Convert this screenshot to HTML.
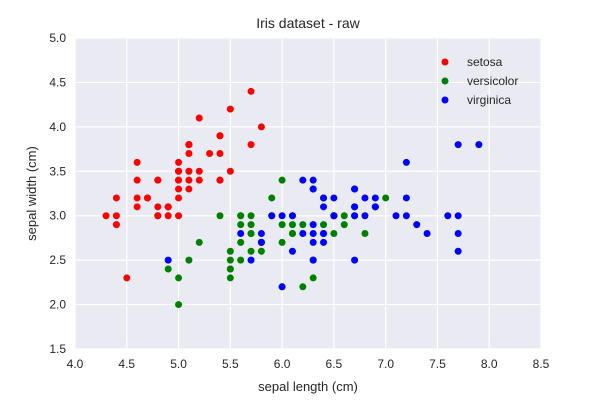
<!DOCTYPE html>
<html><head><meta charset="utf-8"><style>
body{margin:0;background:#fff;}
svg{display:block;font-family:"Liberation Sans",Arial,sans-serif;}
</style></head><body>
<svg id="chart" width="600" height="400"></svg>
<script>
const xTicks=[4.0,4.5,5.0,5.5,6.0,6.5,7.0,7.5,8.0,8.5];
const yTicks=[1.5,2.0,2.5,3.0,3.5,4.0,4.5,5.0];
const seriesNames=["setosa","versicolor","virginica"];
const seriesColors=["#ff0000","#008000","#0000ff"];
const setosa=[[5.1,3.5],[4.9,3.0],[4.7,3.2],[4.6,3.1],[5.0,3.6],[5.4,3.9],[4.6,3.4],[5.0,3.4],[4.4,2.9],[4.9,3.1],[5.4,3.7],[4.8,3.4],[4.8,3.0],[4.3,3.0],[5.8,4.0],[5.7,4.4],[5.4,3.9],[5.1,3.5],[5.7,3.8],[5.1,3.8],[5.4,3.4],[5.1,3.7],[4.6,3.6],[5.1,3.3],[4.8,3.4],[5.0,3.0],[5.0,3.4],[5.2,3.5],[5.2,3.4],[4.7,3.2],[4.8,3.1],[5.4,3.4],[5.2,4.1],[5.5,4.2],[4.9,3.1],[5.0,3.2],[5.5,3.5],[4.9,3.1],[4.4,3.0],[5.1,3.4],[5.0,3.5],[4.5,2.3],[4.4,3.2],[5.0,3.5],[5.1,3.8],[4.8,3.0],[5.1,3.8],[4.6,3.2],[5.3,3.7],[5.0,3.3]];
const versicolor=[[7.0,3.2],[6.4,3.2],[6.9,3.1],[5.5,2.3],[6.5,2.8],[5.7,2.8],[6.3,3.3],[4.9,2.4],[6.6,2.9],[5.2,2.7],[5.0,2.0],[5.9,3.0],[6.0,2.2],[6.1,2.9],[5.6,2.9],[6.7,3.1],[5.6,3.0],[5.8,2.7],[6.2,2.2],[5.6,2.5],[5.9,3.2],[6.1,2.8],[6.3,2.5],[6.1,2.8],[6.4,2.9],[6.6,3.0],[6.8,2.8],[6.7,3.0],[6.0,2.9],[5.7,2.6],[5.5,2.4],[5.5,2.4],[5.8,2.7],[6.0,2.7],[5.4,3.0],[6.0,3.4],[6.7,3.1],[6.3,2.3],[5.6,3.0],[5.5,2.5],[5.5,2.6],[6.1,3.0],[5.8,2.6],[5.0,2.3],[5.6,2.7],[5.7,3.0],[5.7,2.9],[6.2,2.9],[5.1,2.5],[5.7,2.8]];
const virginica=[[6.3,3.3],[5.8,2.7],[7.1,3.0],[6.3,2.9],[6.5,3.0],[7.6,3.0],[4.9,2.5],[7.3,2.9],[6.7,2.5],[7.2,3.6],[6.5,3.2],[6.4,2.7],[6.8,3.0],[5.7,2.5],[5.8,2.8],[6.4,3.2],[6.5,3.0],[7.7,3.8],[7.7,2.6],[6.0,2.2],[6.9,3.2],[5.6,2.8],[7.7,2.8],[6.3,2.7],[6.7,3.3],[7.2,3.2],[6.2,2.8],[6.1,3.0],[6.4,2.8],[7.2,3.0],[7.4,2.8],[7.9,3.8],[6.4,2.8],[6.3,2.8],[6.1,2.6],[7.7,3.0],[6.3,3.4],[6.4,3.1],[6.0,3.0],[6.9,3.1],[6.7,3.1],[6.9,3.1],[5.8,2.7],[6.8,3.2],[6.7,3.3],[6.7,3.0],[6.3,2.5],[6.5,3.0],[6.2,3.4],[5.9,3.0]];

const L=75,R=541,T=38,B=349,X0=4.0,X1=8.5,Y0=1.5,Y1=5.0;
const sx=v=>L+(v-X0)/(X1-X0)*(R-L);
const sy=v=>B-(v-Y0)/(Y1-Y0)*(B-T);
const svg=document.getElementById('chart');
const NS='http://www.w3.org/2000/svg';
function mk(tag,attrs,parent){const e=document.createElementNS(NS,tag);for(const k in attrs)e.setAttribute(k,attrs[k]);(parent||svg).appendChild(e);return e;}

const bg=mk('rect',{x:L,y:T,width:R-L,height:B-T,fill:'#eaeaf2'});


xTicks.forEach(t=>{
  const g=mk('line',{x1:sx(t),x2:sx(t),y1:T,y2:B,stroke:'#fff','stroke-width':1.2});
  
  
  const l=mk('text',{x:sx(t),y:B+19,'text-anchor':'middle','font-size':12,fill:'#262626'});
  l.textContent=t.toFixed(1);
  
  
});
yTicks.forEach(t=>{
  const g=mk('line',{x1:L,x2:R,y1:sy(t),y2:sy(t),stroke:'#fff','stroke-width':1.2});
  
  
  const l=mk('text',{x:L-9,y:sy(t)+4,'text-anchor':'end','font-size':12,fill:'#262626'});
  l.textContent=t.toFixed(1);
  
  
});
[setosa,versicolor,virginica].forEach((s,i)=>{
  s.forEach(p=>{
    const c=mk('circle',{cx:sx(p[0]),cy:sy(p[1]),r:3.5,fill:seriesColors[i]});
    
    
  });
  const ly=62+i*19;
  const lc=mk('circle',{cx:445,cy:ly,r:3.5,fill:seriesColors[i]});
  
  
  const lt=mk('text',{x:467,y:ly+4,'font-size':12,fill:'#262626'});
  lt.textContent=seriesNames[i];
  
  
});
const title=mk('text',{x:(L+R)/2,y:28,'text-anchor':'middle','font-size':14,fill:'#262626'});
title.textContent='Iris dataset - raw';


const xl=mk('text',{x:(L+R)/2,y:391,'text-anchor':'middle','font-size':13,fill:'#262626'});
xl.textContent='sepal length (cm)';


const yl=mk('text',{x:36,y:(T+B)/2,'text-anchor':'middle','font-size':13,fill:'#262626',transform:'rotate(-90 36 '+((T+B)/2)+')'});
yl.textContent='sepal width (cm)';


</script>
</body></html>
